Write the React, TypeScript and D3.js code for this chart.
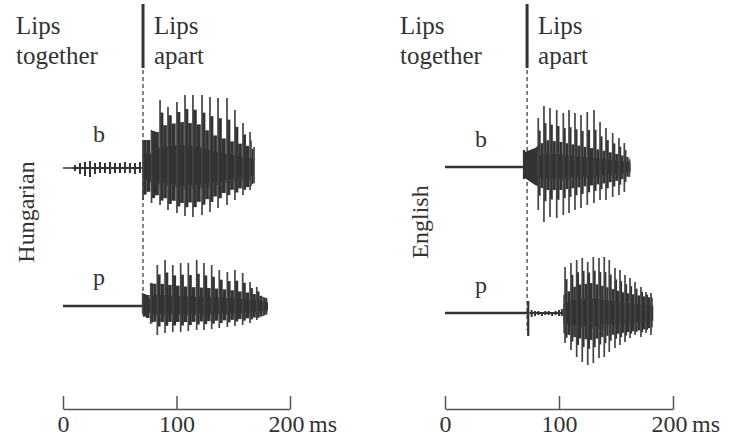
import React, { useEffect, useRef } from "react";
import * as d3 from "d3";

// time axis ticks (ms)
const tickValues = [0, 100, 200];

// Hungarian /b/ : prevoicing ripple during closure
const huBRippleT = [10.6, 15, 19.4, 23.8, 28.2, 32.6, 37, 41.4, 45.8, 50.2, 54.6, 59, 63.4, 67.8];
const huBRippleTop = [3, 5, 6, 7, 5, 6, 5, 6, 5, 5, 6, 5, 5, 6];
const huBRippleBot = [-3, -6, -8, -9, -6, -5, -5, -6, -5, -5, -5, -5, -6, -5];
// Hungarian /b/ : voicing pulses and envelope
const huBPulseT = [70.5, 78, 85.5, 92.5, 100.4, 107.5, 114.5, 122.5, 129.5, 136.6, 144.5, 151.5, 158.6, 164.8, 168.3];
const huBPulseTop = [28, 38, 68, 61, 66, 73, 73, 73, 71, 70, 70, 58, 45, 36, 21];
const huBPulseBot = [-32, -35, -37, -42, -45, -48, -49, -47, -44, -40, -37, -32, -27, -22, -15];
const huBBodyT = [70.5, 76.7, 85.5, 103, 118, 132, 147, 162, 168.3];
const huBBodyTop = [28, 28, 42, 46, 44, 33, 27, 22, 18];
const huBBodyBot = [-22, -25, -29, -35, -34, -29, -22, -19, -15];

// Hungarian /p/
const huPPulseT = [70.2, 77.3, 83.1, 89.9, 96.7, 103.7, 110.4, 117.8, 124.2, 131, 137.7, 144.8, 151.5, 158.3, 164.8, 170.7, 176.5];
const huPPulseTop = [13, 23, 41, 46, 41, 43, 43, 46, 43, 41, 36, 34, 36, 33, 24, 19, 9];
const huPPulseBot = [-8, -18, -29, -27, -26, -26, -25, -24, -24, -23, -22, -21, -20, -19, -17, -14, -10];
const huPBodyT = [74.4, 80.6, 94, 111.5, 129, 146.7, 164.3, 177.5, 180.6];
const huPBodyTop = [11, 23, 21, 19, 18, 16, 13, 9, 6];
const huPBodyBot = [-12, -16, -16, -16, -15, -14, -12, -10, -6];

// English /b/
const enBBurstT = [69.3];
const enBBurstTop = [17];
const enBBurstBot = [-12];
const enBPulseT = [81.8, 86.8, 92.1, 98, 103.8, 108.8, 114, 119.3, 124.8, 130.7, 136, 141.2, 147.1, 152.6, 157.3, 161.7];
const enBPulseTop = [49, 61, 59, 57, 54, 57, 54, 52, 55, 57, 45, 39, 34, 29, 24, 7];
const enBPulseBot = [-43, -55, -50, -51, -48, -46, -43, -41, -38, -36, -33, -33, -30, -28, -25, -10];
const enBBodyT = [70, 79, 87.7, 100.9, 118.4, 135.9, 153.5, 162.5];
const enBBodyTop = [15, 19, 27, 25, 21, 17, 12, 9];
const enBBodyBot = [-11, -18, -23, -23, -20, -17, -13, -8];

// English /p/
const enPBurstT = [73];
const enPBurstTop = [12];
const enPBurstBot = [-23];
const enPRippleT = [76, 79, 82, 85, 88, 91, 94, 97, 100, 102.5];
const enPRippleTop = [3, 2, 2, 1, 2, 2, 1, 2, 3, 4];
const enPRippleBot = [-4, -3, -2, -3, -2, -2, -3, -2, -3, -3];
const enPPulseT = [105.3, 110.5, 115.5, 120.4, 125.2, 130.1, 135.1, 139.7, 144.1, 149.1, 153.5, 157.9, 162.3, 166.7, 171.9, 176.3, 180.7];
const enPPulseTop = [46, 50, 53, 55, 51, 56, 55, 56, 53, 45, 43, 38, 35, 31, 26, 21, 20];
const enPPulseBot = [-30, -37, -44, -49, -52, -50, -45, -44, -39, -35, -32, -29, -25, -22, -24, -20, -22];
const enPBodyT = [103.8, 114.9, 128, 141.2, 154.4, 171.9, 182.5];
const enPBodyTop = [18, 28, 30, 26, 21, 17, 15];
const enPBodyBot = [-20, -25, -27, -23, -20, -17, -14];

const FONT = "'Liberation Serif', 'Times New Roman', serif";
const INK = "#333";

const zip3 = (t: number[], a: number[], b: number[]) => t.map((v, i) => ({ t: v, top: a[i], bot: b[i] }));

const amp = d3.scaleLinear().domain([-80, 80]).range([80, -80]);

function drawWave(g: any, x: any, base: number, w: any) {
  const y = (a: number) => base + amp(a);
  const wg = g.append("g");
  const body = w.body;
  const tStart = body[0].t;
  const tEnd = body[body.length - 1].t;
  const envTop = d3.scaleLinear().domain(body.map((d: any) => d.t)).range(body.map((d: any) => d.top)).clamp(true);
  const envBot = d3.scaleLinear().domain(body.map((d: any) => d.t)).range(body.map((d: any) => d.bot)).clamp(true);

  // closure line
  wg.append("line")
    .attr("x1", x(0)).attr("x2", x(w.closeEnd))
    .attr("y1", base).attr("y2", base)
    .attr("stroke", INK)
    .attr("stroke-width", w.thinClose ? 1.3 : 2.6);

  if (w.ripple) {
    const r = w.ripple;
    wg.append("line")
      .attr("x1", x(r[0].t - 2)).attr("x2", x(r[r.length - 1].t + 1))
      .attr("y1", base).attr("y2", base)
      .attr("stroke", INK).attr("stroke-width", 2);
    wg.selectAll(".rip")
      .data(r)
      .enter()
      .append("line")
      .attr("x1", (d: any) => x(d.t)).attr("x2", (d: any) => x(d.t))
      .attr("y1", (d: any) => y(d.top)).attr("y2", (d: any) => y(d.bot))
      .attr("stroke", INK)
      .attr("stroke-width", 2);
  }

  // core of the waveform
  const core = d3.area<any>()
    .x((d) => x(d.t))
    .y0((d) => y(d.bot * 0.5))
    .y1((d) => y(d.top * 0.5))
    .curve(d3.curveLinear);
  wg.append("path").attr("d", core(body)).attr("fill", INK);

  const pulses = w.pulses;
  const firstT = pulses[0].t;
  if (firstT > tStart + 1) {
    const pre = body.filter((d: any) => d.t <= firstT);
    pre.push({ t: firstT, top: envTop(firstT), bot: envBot(firstT) });
    wg.append("path").attr("d", core.y0((d: any) => y(d.bot)).y1((d: any) => y(d.top))(pre)).attr("fill", INK);
  }

  // one dark bar per glottal period
  const bars: any[] = [];
  pulses.forEach((p: any, i: number) => {
    const next = i < pulses.length - 1 ? pulses[i + 1].t : Math.min(tEnd, p.t + (p.t - pulses[i - 1].t));
    const P = next - p.t;
    if (P <= 0.3) return;
    const mid = p.t + P / 2;
    const eT = envTop(mid), eB = envBot(mid);
    bars.push({ t0: p.t, t1: p.t + P * 0.42, top: (p.top + eT) / 2, bot: (p.bot * 0.7 + eB * 1.3) / 2 });
    bars.push({ t0: p.t + P * 0.4, t1: next - P * 0.14, top: eT, bot: eB });
    bars.push({ t0: next - P * 0.16, t1: next, top: eT * 0.45, bot: eB * 0.6 });
  });
  wg.selectAll(".bar")
    .data(bars)
    .enter()
    .append("rect")
    .attr("x", (d: any) => x(d.t0))
    .attr("width", (d: any) => Math.max(0.5, x(d.t1) - x(d.t0)))
    .attr("y", (d: any) => y(d.top))
    .attr("height", (d: any) => y(d.bot) - y(d.top))
    .attr("fill", INK);

  // voicing pulses
  wg.selectAll(".pulse")
    .data(pulses)
    .enter()
    .append("line")
    .attr("x1", (d: any) => x(d.t)).attr("x2", (d: any) => x(d.t))
    .attr("y1", (d: any) => y(d.top)).attr("y2", (d: any) => y(d.bot))
    .attr("stroke", "#444")
    .attr("stroke-width", 1.7);

  if (w.burst) {
    wg.selectAll(".burst")
      .data(w.burst)
      .enter()
      .append("line")
      .attr("x1", (d: any) => x(d.t)).attr("x2", (d: any) => x(d.t))
      .attr("y1", (d: any) => y(d.top)).attr("y2", (d: any) => y(d.bot))
      .attr("stroke", INK)
      .attr("stroke-width", 2.2);
  }
}

function App() {
  const ref = useRef<SVGSVGElement>(null);

  useEffect(() => {
    const svg = d3.select(ref.current);
    svg.selectAll("*").remove();

    const leftX = d3.scaleLinear().domain([0, 200]).range([63, 290]);
    const rightX = d3.scaleLinear().domain([0, 200]).range([445, 673]);

    const panels = [
      {
        x: leftX, lang: "Hungarian", langX: 34, langY: 212, release: 70.5, dashEnd: 300, headX: 16,
        waves: [
          {
            label: "b", base: 168, labelY: 142, closeEnd: 70.5, thinClose: true,
            ripple: zip3(huBRippleT, huBRippleTop, huBRippleBot),
            body: zip3(huBBodyT, huBBodyTop, huBBodyBot),
            pulses: zip3(huBPulseT, huBPulseTop, huBPulseBot)
          },
          {
            label: "p", base: 306, labelY: 285, closeEnd: 70.2,
            body: zip3(huPBodyT, huPBodyTop, huPBodyBot),
            pulses: zip3(huPPulseT, huPPulseTop, huPPulseBot)
          }
        ]
      },
      {
        x: rightX, lang: "English", langX: 428, langY: 222, release: 72, dashEnd: 330, headX: 400,
        waves: [
          {
            label: "b", base: 167, labelY: 147, closeEnd: 69.3,
            burst: zip3(enBBurstT, enBBurstTop, enBBurstBot),
            body: zip3(enBBodyT, enBBodyTop, enBBodyBot),
            pulses: zip3(enBPulseT, enBPulseTop, enBPulseBot)
          },
          {
            label: "p", base: 313, labelY: 293, closeEnd: 73,
            burst: zip3(enPBurstT, enPBurstTop, enPBurstBot),
            ripple: zip3(enPRippleT, enPRippleTop, enPRippleBot),
            body: zip3(enPBodyT, enPBodyTop, enPBodyBot),
            pulses: zip3(enPPulseT, enPPulseTop, enPPulseBot)
          }
        ]
      }
    ];

    panels.forEach((p) => {
      const g = svg.append("g");
      const rx = p.x(p.release);
      const x0 = p.x(0);

      // release markers
      g.append("line")
        .attr("x1", rx).attr("x2", rx).attr("y1", 4).attr("y2", 68)
        .attr("stroke", INK).attr("stroke-width", 3);
      g.append("line")
        .attr("x1", rx).attr("x2", rx).attr("y1", 70).attr("y2", p.dashEnd)
        .attr("stroke", INK).attr("stroke-width", 1.2)
        .attr("stroke-dasharray", "4,3");

      const txt = (s: string, tx: number, ty: number) =>
        g.append("text")
          .attr("x", tx).attr("y", ty)
          .attr("font-family", FONT).attr("font-size", 25)
          .attr("fill", INK)
          .text(s);

      txt("Lips", p.headX, 34);
      txt("together", p.headX, 64);
      txt("Lips", rx + 11, 34);
      txt("apart", rx + 11, 64);

      g.append("text")
        .attr("transform", `translate(${p.langX}, ${p.langY}) rotate(-90)`)
        .attr("text-anchor", "middle")
        .attr("font-family", FONT).attr("font-size", 24)
        .attr("fill", INK)
        .text(p.lang);

      p.waves.forEach((w: any) => {
        g.append("text")
          .attr("x", x0 + 30).attr("y", w.labelY)
          .attr("font-family", FONT).attr("font-size", 24)
          .attr("fill", INK)
          .text(w.label);
        drawWave(g, p.x, w.base, w);
      });

      // time scale bar
      const axis = d3.axisBottom(p.x)
        .tickValues(tickValues)
        .tickSize(-13)
        .tickSizeOuter(0)
        .tickPadding(6)
        .tickFormat((d: any) => String(d));
      const ag = g.append("g")
        .attr("transform", "translate(0, 409)")
        .call(axis);
      ag.selectAll("path, line").attr("stroke", "#555").attr("stroke-width", 1.5);
      ag.selectAll("text")
        .attr("font-family", FONT).attr("font-size", 24)
        .attr("fill", INK)
        .attr("dx", (d: any) => (d === 200 ? -4 : 0));
      ag.append("text")
        .attr("x", p.x(200) + 19).attr("y", 6)
        .attr("dy", "0.71em")
        .attr("font-family", FONT).attr("font-size", 24)
        .attr("fill", INK)
        .attr("text-anchor", "start")
        .text("ms");
    });
  }, []);

  return (
    <svg
      ref={ref}
      width={729}
      height={441}
      style={{ position: "absolute", left: 0, top: 0, background: "#fff" }}
    />
  );
}

export default App;
